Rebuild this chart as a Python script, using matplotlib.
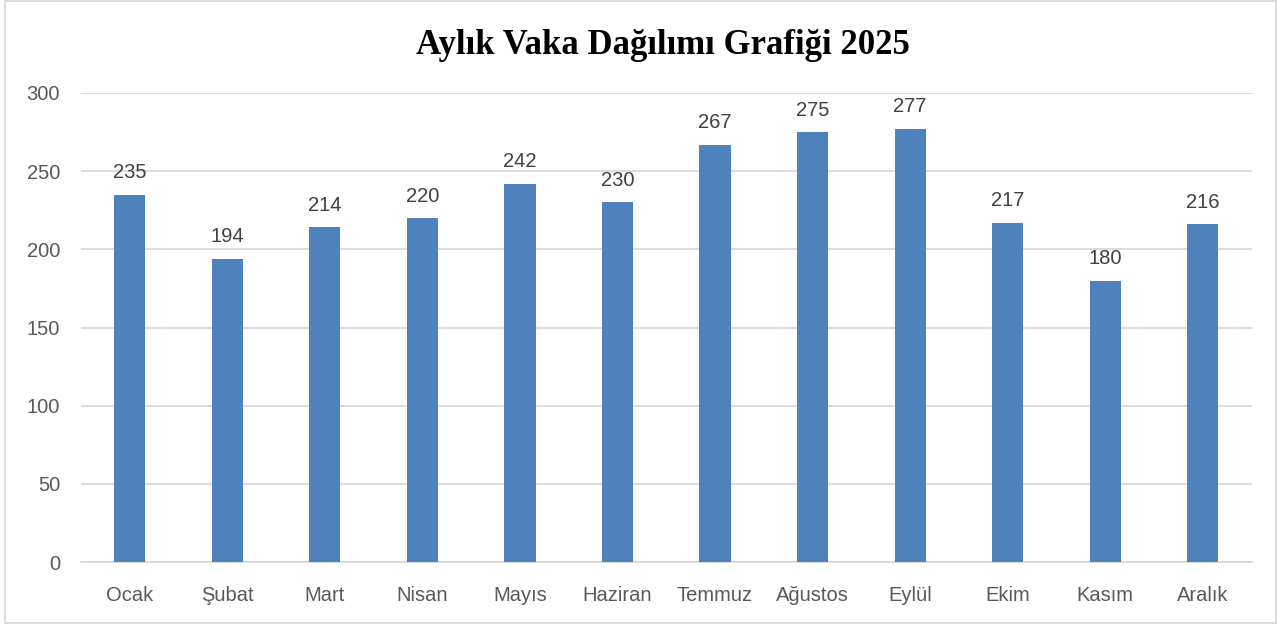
import matplotlib
matplotlib.use("Agg")
import matplotlib.pyplot as plt
from matplotlib.patches import Rectangle

months = ["Ocak", "Şubat", "Mart", "Nisan", "Mayıs", "Haziran",
          "Temmuz", "Ağustos", "Eylül", "Ekim", "Kasım", "Aralık"]
cases = [235, 194, 214, 220, 242, 230, 267, 275, 277, 217, 180, 216]
y_ticks = [0, 50, 100, 150, 200, 250, 300]

plt.rcParams['font.family'] = ['Liberation Sans', 'DejaVu Sans']

fig = plt.figure(figsize=(12.85, 6.28), dpi=100)
ax = fig.add_axes([0.063, 0.105, 0.911, 0.747])

x = range(len(months))
bars = ax.bar(x, cases, width=0.32, color="#4F81BD", zorder=3)

for xi, v in zip(x, cases):
    ax.annotate(str(v), (xi, v), xytext=(0, 9), textcoords="offset points",
                ha="center", va="bottom", fontsize=14.5, color="#404040")

ax.set_xlim(-0.5, len(months) - 0.5)
ax.set_ylim(0, 300)
ax.set_yticks(y_ticks)
ax.set_xticks(list(x))
ax.set_xticklabels(months)
ax.tick_params(axis="both", length=0, labelsize=14.5, labelcolor="#595959")
ax.tick_params(axis="y", pad=15)
ax.tick_params(axis="x", pad=17)
ax.grid(axis="y", color="#D9D9D9", linewidth=1.3, zorder=0)
for side in ["top", "right", "left"]:
    ax.spines[side].set_visible(False)
ax.spines["bottom"].set_color("#D9D9D9")
ax.spines["bottom"].set_linewidth(1.3)

fig.text(0.516, 0.928, "Aylık Vaka Dağılımı Grafiği 2025", ha="center", va="center",
         fontsize=25, fontweight="bold", family=["Liberation Serif", "DejaVu Serif"],
         color="black")

fig.patches.append(Rectangle((0.004, 0.008), 0.989, 0.99, transform=fig.transFigure,
                             fill=False, edgecolor="#D9D9D9", linewidth=1.3))

fig.savefig("out.png", dpi=100)
